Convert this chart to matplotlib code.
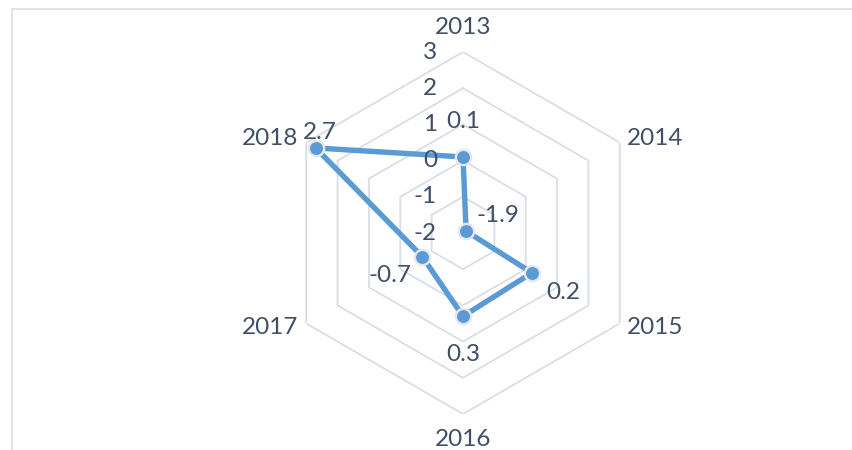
import numpy as np
import matplotlib.pyplot as plt
from matplotlib.patches import Rectangle

# data
years = ['2013', '2014', '2015', '2016', '2017', '2018']
values = [0.1, -1.9, 0.2, 0.3, -0.7, 2.7]
r_ticks = [-2, -1, 0, 1, 2, 3]

plt.rcParams['font.family'] = ['Lato', 'DejaVu Sans']
text_color = '#404F66'
grid_color = '#D9DEE6'
line_color = '#5B9BD5'
fs = 17.5

fig = plt.figure(figsize=(8.52, 4.5), dpi=100)

# light frame of the chart area (runs off the right and bottom edge)
fig.patches.append(Rectangle((12 / 852, -0.1), 1.2, 1 - 9 / 450 + 0.1,
                             transform=fig.transFigure, fill=False,
                             edgecolor='#D9DEE6', linewidth=1.2))

ax = fig.add_axes([282 / 852, 36 / 450, 362 / 852, 362 / 450], projection='polar')
ax.set_theta_offset(np.pi / 2)
ax.set_theta_direction(-1)
ax.set_ylim(r_ticks[0], r_ticks[-1])
ax.axis('off')

n = len(years)
theta = np.arange(n) * 2 * np.pi / n
theta_closed = np.append(theta, theta[0])

# hexagonal rings
for r in r_ticks[1:]:
    ax.plot(theta_closed, [r] * (n + 1), color=grid_color, lw=1.3, zorder=1)

# series
vals_closed = values + values[:1]
ax.plot(theta_closed, vals_closed, color=line_color, lw=3.9, zorder=3,
        solid_joinstyle='round')
ax.plot(theta, values, 'o', color=line_color, markersize=11,
        markeredgecolor='#E4E7EC', markeredgewidth=1.7, zorder=4, clip_on=False)

# radial tick labels
for r in r_ticks:
    ax.annotate(str(r), (0, r), xytext=(-26, 0), textcoords='offset pixels',
                ha='right', va='center', fontsize=fs, color=text_color)

# category labels
cat_offsets = [(0, 25, 'center'), (7, 4, 'left'), (7, -4, 'left'),
               (0, -26, 'center'), (-8, -4, 'right'), (-8, 4, 'right')]
for t, name, (dx, dy, ha) in zip(theta, years, cat_offsets):
    ax.annotate(name, (t, r_ticks[-1]), xytext=(dx, dy), textcoords='offset pixels',
                ha=ha, va='center', fontsize=fs, color=text_color,
                annotation_clip=False)

# data labels
lab_offsets = [(0, 35), (32, 16), (31, -20), (0, -38), (-32, -19), (4, 15)]
for t, v, (dx, dy) in zip(theta, values, lab_offsets):
    ax.annotate(f'{v:g}', (t, v), xytext=(dx, dy), textcoords='offset pixels',
                ha='center', va='center', fontsize=fs, color=text_color,
                zorder=5)

fig.savefig('out.png', dpi=100)
